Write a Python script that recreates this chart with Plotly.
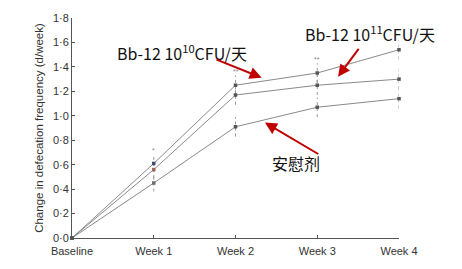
import plotly.graph_objects as go

categories = ["Baseline", "Week 1", "Week 2", "Week 3", "Week 4"]
high_dose = [0.0, 0.61, 1.25, 1.35, 1.54]    # Bb-12 10^10 (top line)
low_dose = [0.0, 0.56, 1.17, 1.25, 1.30]     # middle line
placebo = [0.0, 0.45, 0.91, 1.07, 1.14]      # 安慰剂
err = [0.0, 0.07, 0.08, 0.08, 0.08]
week1_colors = ["#3d4f73", "#a0625a", "#6e6e6e"]
y_ticks = [0, 0.2, 0.4, 0.6, 0.8, 1.0, 1.2, 1.4, 1.6, 1.8]
y_tick_text = ["0·0", "0·2", "0·4", "0·6", "0·8", "1·0", "1·2", "1·4", "1·6", "1·8"]
sig_marks = ["", "*", "**", "**", ""]

xs = list(range(len(categories)))
fig = go.Figure()

# dotted error bars
for series in (high_dose, low_dose, placebo):
    ex, ey = [], []
    for i, v in enumerate(series):
        if err[i] > 0:
            ex += [xs[i], xs[i], None]
            ey += [v - err[i], v + err[i], None]
    fig.add_trace(go.Scatter(x=ex, y=ey, mode="lines",
                             line=dict(color="#9a9a9a", width=1, dash="dot"),
                             showlegend=False, hoverinfo="skip", cliponaxis=False))

for k, series in enumerate((high_dose, low_dose, placebo)):
    colors = ["#555555"] * len(series)
    colors[1] = week1_colors[k]
    fig.add_trace(go.Scatter(x=xs, y=series, mode="lines+markers",
                             line=dict(color="#8a8a8a", width=1),
                             marker=dict(symbol="square", size=3.5, color=colors),
                             showlegend=False, cliponaxis=False))

# significance marks
for i, s in enumerate(sig_marks):
    if s:
        top = max(high_dose[i], low_dose[i], placebo[i]) + err[i]
        fig.add_annotation(x=xs[i], y=top, text=s, showarrow=False, yshift=4,
                           font=dict(size=7, color="#888888", family="Liberation Sans"))

red = "#c00000"
txtfont = dict(size=16, color="#111111", family="Noto Sans CJK SC")
fig.add_annotation(x=1.35, y=1.52, text="Bb-12 10<sup>10</sup>CFU/天", showarrow=False, font=txtfont)
fig.add_annotation(x=3.645, y=1.672, text="Bb-12 10<sup>11</sup>CFU/天", showarrow=False, font=txtfont)
fig.add_annotation(x=2.74, y=0.616, text="安慰剂", showarrow=False, font=txtfont)

for (tx, ty, hx, hy) in [(1.75, 1.464, 2.32, 1.312), (3.52, 1.56, 3.254, 1.32), (3.03, 0.68, 2.36, 0.944)]:
    fig.add_annotation(x=hx, y=hy, ax=tx, ay=ty, xref="x", yref="y", axref="x", ayref="y",
                       text="", showarrow=True, arrowhead=2, arrowsize=1.2, arrowwidth=2,
                       arrowcolor=red)

fig.update_layout(
    width=462, height=269,
    margin=dict(l=72, r=63, t=15, b=27),
    paper_bgcolor="white", plot_bgcolor="white",
    font=dict(family="Liberation Sans", color="#333333", size=11),
)
fig.update_xaxes(range=[0, 4], tickvals=xs, ticktext=categories, showgrid=False, zeroline=False,
                 showline=True, linecolor="#555555", linewidth=1, ticks="inside", ticklen=3,
                 tickcolor="#555555", tickfont=dict(size=11, color="#333333"),
                 ticklabelstandoff=3)
fig.update_yaxes(range=[0, 1.8], tickvals=y_ticks, ticktext=y_tick_text, showgrid=False, zeroline=False,
                 showline=True, linecolor="#555555", linewidth=1, ticks="inside", ticklen=3,
                 tickcolor="#555555", tickfont=dict(size=11, color="#333333"),
                 title=dict(text="Change in defecation frequency (d/week)", standoff=6,
                            font=dict(size=11.5, color="#333333")))

fig.write_html("out.html")
